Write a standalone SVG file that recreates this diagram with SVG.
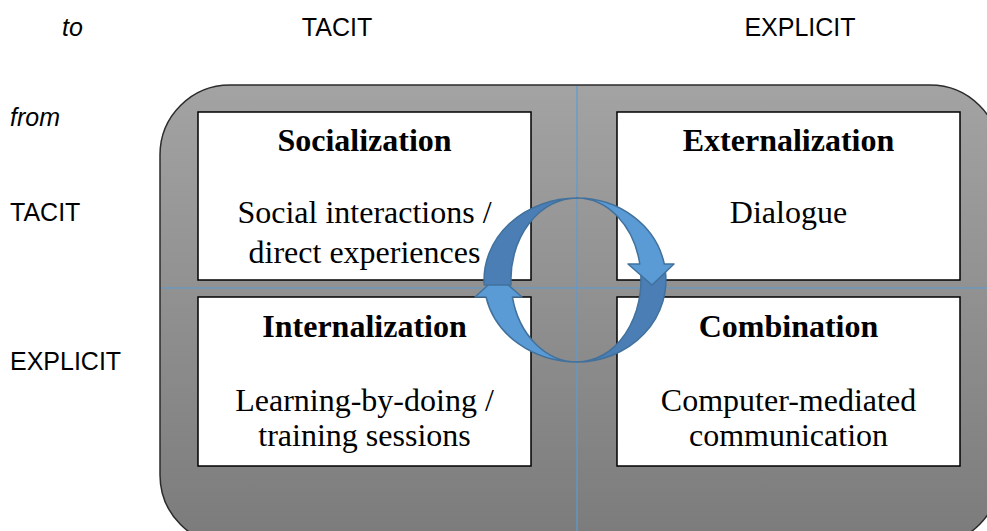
<svg xmlns="http://www.w3.org/2000/svg" width="987" height="531" viewBox="0 0 987 531">
<defs>
<linearGradient id="bg" x1="0" y1="0" x2="0" y2="1">
<stop offset="0" stop-color="#a3a3a3"/>
<stop offset="1" stop-color="#7b7b7b"/>
</linearGradient>
</defs>
<style>
.lab{font-family:"Liberation Sans",Arial,sans-serif;font-size:25px;fill:#000}
.it{font-style:italic}
.box{fill:#fff;stroke:#000;stroke-width:1.5}
.t{font-family:"Liberation Serif","Times New Roman",serif;font-size:32px;fill:#000;text-anchor:middle}
.b{font-weight:bold}
.ax{stroke:#5b9bd5;stroke-width:1.2;fill:none}
.light{fill:#5b9bd5;stroke:#41719c;stroke-width:1.5;stroke-linejoin:round}
.dark{fill:#4a7eb5;stroke:#41719c;stroke-width:1.5;stroke-linejoin:round}
</style>
<rect width="987" height="531" fill="#fff"/>
<g id="labels">
<text class="lab it" x="62" y="36">to</text>
<text class="lab" x="337" y="36" text-anchor="middle">TACIT</text>
<text class="lab" x="800" y="36" text-anchor="middle">EXPLICIT</text>
<text class="lab it" x="10" y="126">from</text>
<text class="lab" x="10" y="221">TACIT</text>
<text class="lab" x="10" y="370">EXPLICIT</text>
</g>
<g id="frame">
<rect x="160" y="85" width="840" height="460" rx="70" ry="70" fill="url(#bg)" stroke="#2b2b2b" stroke-width="1.5"/>
</g>
<g id="axes">
<line class="ax" x1="577" y1="86" x2="577" y2="531"/>
<line class="ax" x1="161" y1="288" x2="987" y2="288"/>
</g>
<g id="socialization">
<rect class="box" x="198" y="112" width="333" height="168"/>
<text class="t b" x="364.5" y="151">Socialization</text>
<text class="t" x="364.5" y="223">Social interactions /</text>
<text class="t" x="364.5" y="263">direct experiences</text>
</g>
<g id="externalization">
<rect class="box" x="617" y="112" width="343" height="168"/>
<text class="t b" x="788.5" y="151">Externalization</text>
<text class="t" x="788.5" y="223">Dialogue</text>
</g>
<g id="internalization">
<rect class="box" x="198" y="297" width="333" height="169"/>
<text class="t b" x="364.5" y="337">Internalization</text>
<text class="t" x="364.5" y="411">Learning-by-doing /</text>
<text class="t" x="364.5" y="446">training sessions</text>
</g>
<g id="combination">
<rect class="box" x="617" y="297" width="343" height="169"/>
<text class="t b" x="788.5" y="337">Combination</text>
<text class="t" x="788.5" y="411">Computer-mediated</text>
<text class="t" x="788.5" y="446">communication</text>
</g>
<g id="connectors">
<g id="arrow-right">
<path class="dark" d="M 665 268 A 89 82 0 0 1 577 362 A 64 82 0 0 0 640.3 268 Z"/>
<path class="light" d="M 577 198 A 89 82 0 0 1 664.3 264 L 674 264 L 652 285 L 628 264 L 639.8 264 A 64 82 0 0 0 577 198 Z"/>
</g>
<g id="arrow-left">
<path class="light" d="M 577 362 A 93 82 0 0 1 486 297 L 475 297 L 498 276 L 522 297 L 512.4 297 A 66 82 0 0 0 577 362 Z"/>
<path class="dark" d="M 577 198 A 93 82 0 0 0 484.2 285 L 511 285 A 66 82 0 0 1 577 198 Z"/>
</g>
</g>
</svg>
